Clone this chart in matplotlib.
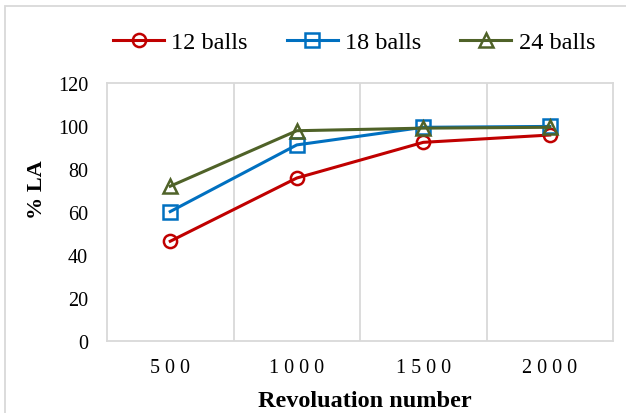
import matplotlib
matplotlib.use("Agg")
import matplotlib.pyplot as plt
from matplotlib.patches import Rectangle
import numpy as np

plt.rcParams['font.family'] = ['Liberation Serif', 'DejaVu Serif']

# data
revolutions = ["500", "1000", "1500", "2000"]
balls_12 = [46.4, 75.8, 92.4, 95.8]
balls_18 = [60.2, 91.2, 99.4, 99.8]
balls_24 = [72.0, 97.8, 99.0, 99.4]
series_names = ["12 balls", "18 balls", "24 balls"]
y_ticks = [0, 20, 40, 60, 80, 100, 120]

W, H = 626, 414
fig = plt.figure(figsize=(W / 100, H / 100), dpi=100)
# plot box in pixels: left 107, right 613, top 84, bottom 342
ax = fig.add_axes([107 / W, 1 - 342 / H, (613 - 107) / W, (342 - 84) / H])

GRID = "#d9d9d9"
x = np.arange(len(revolutions))
styles = [
    (balls_12, "#C00000", "o", 9.5),
    (balls_18, "#0070C0", "s", 9.5),
    (balls_24, "#4F6228", "^", 10.5),
]
for (vals, col, mk, ms), name in zip(styles, series_names):
    ax.plot(x, vals, color=col, lw=2.2, marker=mk, ms=ms, mfc="none",
            mec=col, mew=1.8, label=name)

ax.set_xlim(-0.5, len(revolutions) - 0.5)
ax.set_ylim(0, 120)
ax.set_yticks(y_ticks)
ax.set_xticks(x)
ax.set_xticklabels([" ".join(r) for r in revolutions])
ax.set_xticks(x[:-1] + 0.5, minor=True)
ax.grid(True, axis="x", which="minor", color=GRID, lw=1.3)
ax.tick_params(axis="both", which="both", length=0, labelsize=14.5)
ax.tick_params(axis="y", pad=13.5)
ax.tick_params(axis="x", pad=12)
for s in ax.spines.values():
    s.set_color(GRID)
    s.set_linewidth(1.3)

fig.text(37.5 / W, 1 - 190 / H, "% LA", rotation=90, ha="center", va="center",
         fontsize=16, fontweight="bold")
fig.text(365 / W, 1 - 402 / H, "Revoluation number", ha="center", va="center",
         fontsize=17.5, fontweight="bold")

fig.legend(loc="center", bbox_to_anchor=(354 / W, 1 - 43 / H), ncol=3,
           frameon=False, fontsize=17.5, handlelength=2.1, handletextpad=0.3,
           columnspacing=1.6)

# outer chart border (only top and left visible in the reference)
fig.patches.append(Rectangle((5 / W, -0.1), 1.2, 1 - 7 / H + 0.1,
                             transform=fig.transFigure, fill=False,
                             edgecolor=GRID, lw=1.3))

fig.savefig("out.png", dpi=100)
